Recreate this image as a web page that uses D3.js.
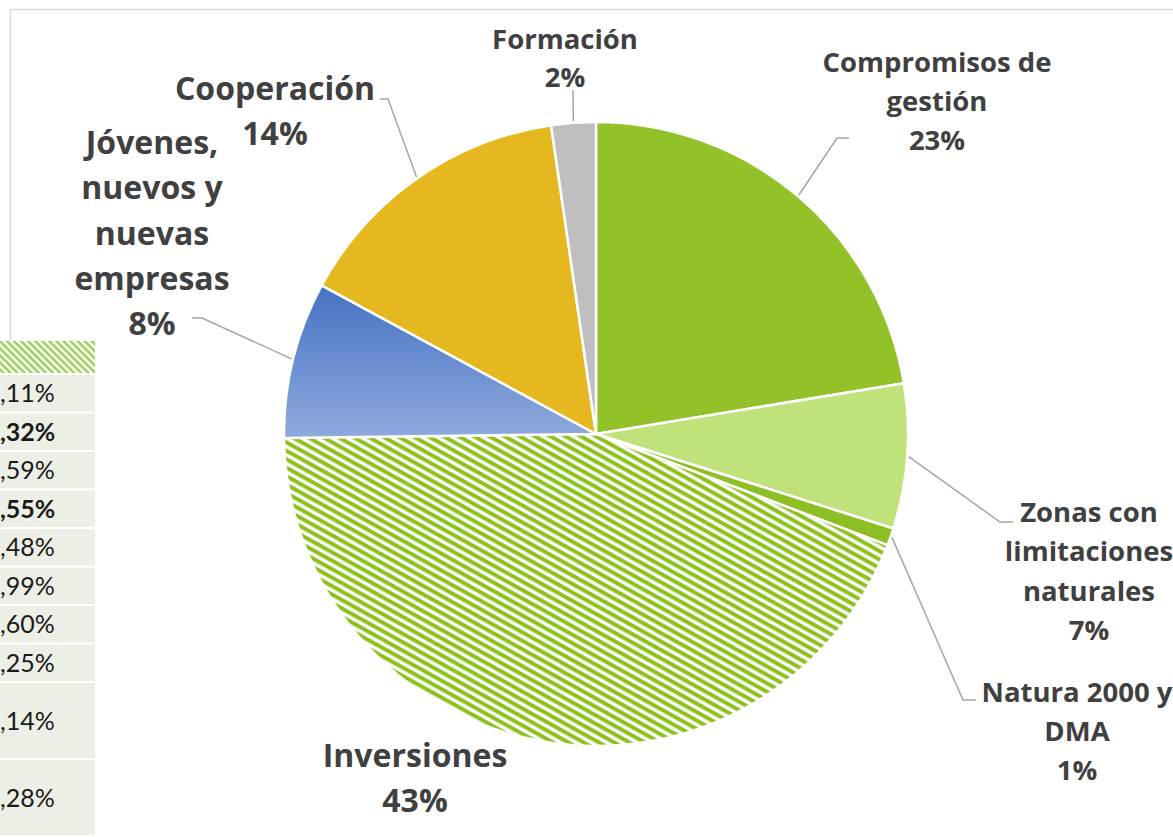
<!DOCTYPE html>
<html>
<head>
<meta charset="utf-8">
<script src="https://cdn.jsdelivr.net/npm/d3@7"></script>
<style>
  html, body { margin: 0; padding: 0; background: #fff; }
  svg { display: block; font-family: 'Open Sans', Lato, sans-serif; }
</style>
</head>
<body>
<svg id="chart" width="1173" height="837"></svg>
<script>
// data
const categories = ['Compromisos de\ngestión', 'Zonas con\nlimitaciones\nnaturales', 'Natura 2000 y\nDMA', 'Inversiones', 'Jóvenes,\nnuevos y\nnuevas\nempresas', 'Cooperación', 'Formación']
const values = [22.4, 7.5, 0.9, 44.0, 8.1, 14.8, 2.3]
const percentLabels = ['23%', '7%', '1%', '43%', '8%', '14%', '2%']
const tableValues = [',11%', ',32%', ',59%', ',55%', ',48%', ',99%', ',60%', ',25%', ',14%', ',28%', '']
const tableBold = [false, true, false, true, false, false, false, false, false, false, false]

// layout
const CX = 596
const CY = 434
const R = 312
const TEXT_COLOR = '#404040'
const LINE_COLOR = '#A6A6A6'
const fills = ['#92C128', '#BFE27A', '#8DBE24', 'url(#stripes)', 'url(#blueGrad)', '#E5B820', '#BFBFBF']

const labelLayout = [
    {x: 937, y: 72, lh: 39, size: 27.5, elbow: [837, 138], end: 849},
    {x: 1089, y: 522, lh: 39.3, size: 27.5, elbow: [1000, 522], end: 1013},
    {x: 1077, y: 702, lh: 39, size: 27.5, elbow: [963, 700], end: 976},
    {x: 415, y: 767, lh: 45, size: 32, elbow: null},
    {x: 152, y: 154, lh: 45.3, size: 32, elbow: [202, 318], end: 192},
    {x: 275, y: 100, lh: 45, size: 32, elbow: [388, 99], end: 380},
    {x: 565, y: 49, lh: 38, size: 27.5, elbow: [573, 90], end: 573}
]

const TABLE_W = 95
const TABLE_TOP = 341
const HEADER_H = 32
const ROW_PITCH = 38.5
const rowSpans = [1, 1, 1, 1, 1, 1, 1, 1, 2, 2, 1]

const svg = d3.select('#chart')
const defs = svg.append('defs')

const stripes = defs.append('pattern')
    .attr('id', 'stripes')
    .attr('patternUnits', 'userSpaceOnUse')
    .attr('width', 20)
    .attr('height', 7.4)
    .attr('patternTransform', 'rotate(29)')
stripes.append('rect').attr('width', 20).attr('height', 7.4).attr('fill', '#fff')
stripes.append('rect').attr('width', 20).attr('height', 4).attr('fill', '#8CC21E')

const headStripes = defs.append('pattern')
    .attr('id', 'headStripes')
    .attr('patternUnits', 'userSpaceOnUse')
    .attr('width', 10)
    .attr('height', 5)
    .attr('patternTransform', 'rotate(45)')
headStripes.append('rect').attr('width', 10).attr('height', 5).attr('fill', '#fff')
headStripes.append('rect').attr('width', 10).attr('height', 2.6).attr('fill', '#9BD15A')

const blueGrad = defs.append('linearGradient')
    .attr('id', 'blueGrad')
    .attr('x1', 0).attr('y1', 0).attr('x2', 0).attr('y2', 1)
blueGrad.append('stop').attr('offset', '0%').attr('stop-color', '#4472C4')
blueGrad.append('stop').attr('offset', '100%').attr('stop-color', '#8FAADC')

// chart frame
svg.append('rect')
    .attr('x', 10.5)
    .attr('y', 9.5)
    .attr('width', 1300)
    .attr('height', 1000)
    .attr('fill', 'none')
    .attr('stroke', '#D9D9D9')
    .attr('stroke-width', 1.5)

// pie
const pie = d3.pie().sort(null).value(d => d)
const arcs = pie(values)
const arc = d3.arc().innerRadius(0).outerRadius(R)

const g = svg.append('g').attr('transform', `translate(${CX},${CY})`)
g.selectAll('path.slice')
    .data(arcs)
    .join('path')
    .attr('class', 'slice')
    .attr('d', arc)
    .attr('fill', (d, i) => fills[i])
    .attr('stroke', '#fff')
    .attr('stroke-width', 2.5)
    .attr('stroke-linejoin', 'round')

// leader lines
arcs.forEach((a, i) => {
    const lay = labelLayout[i]
    if (!lay.elbow) return
    const mid = (a.startAngle + a.endAngle) / 2
    const sx = CX + (R + 1.5) * Math.sin(mid)
    const sy = CY - (R + 1.5) * Math.cos(mid)
    svg.append('polyline')
        .attr('points', `${sx},${sy} ${lay.elbow[0]},${lay.elbow[1]} ${lay.end},${lay.elbow[1]}`)
        .attr('fill', 'none')
        .attr('stroke', LINE_COLOR)
        .attr('stroke-width', 1.5)
})

// labels
categories.forEach((name, i) => {
    const lay = labelLayout[i]
    const lines = name.split('\n').concat([percentLabels[i]])
    const t = svg.append('text')
        .attr('text-anchor', 'middle')
        .attr('font-size', lay.size)
        .attr('font-weight', 700)
        .attr('fill', TEXT_COLOR)
    lines.forEach((line, j) => {
        t.append('tspan')
            .attr('x', lay.x)
            .attr('y', lay.y + j * lay.lh)
            .text(line)
    })
})

// partial table on the left
const table = svg.append('g')
table.append('rect')
    .attr('x', 0).attr('y', TABLE_TOP - 1)
    .attr('width', TABLE_W + 2).attr('height', 837 - TABLE_TOP + 1)
    .attr('fill', '#fff')
table.append('rect')
    .attr('x', 0).attr('y', TABLE_TOP)
    .attr('width', TABLE_W).attr('height', HEADER_H)
    .attr('fill', 'url(#headStripes)')

let rowY = TABLE_TOP + HEADER_H + 2
tableValues.forEach((v, i) => {
    const h = rowSpans[i] * ROW_PITCH - 2
    table.append('rect')
        .attr('x', 0).attr('y', rowY)
        .attr('width', TABLE_W).attr('height', h)
        .attr('fill', '#ECEFE5')
    table.append('text')
        .attr('x', 0)
        .attr('y', rowY + h / 2)
        .attr('dy', '0.36em')
        .attr('font-family', 'Lato, sans-serif')
        .attr('font-size', 25)
        .attr('font-weight', tableBold[i] ? 700 : 400)
        .attr('fill', '#1a1a1a')
        .text(v)
    rowY += rowSpans[i] * ROW_PITCH
})
</script>
</body>
</html>
